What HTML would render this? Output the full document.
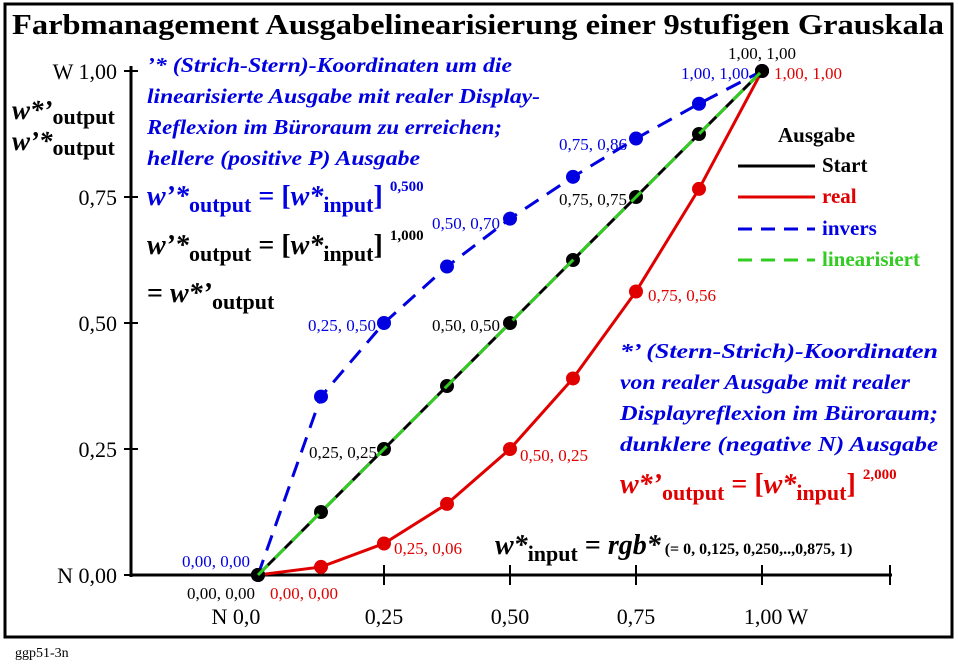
<!DOCTYPE html>
<html><head><meta charset="utf-8"><style>
body{margin:0;background:#fff}
svg text{font-family:"Liberation Serif",serif}
</style></head><body>
<svg width="958" height="661" xmlns="http://www.w3.org/2000/svg">
<rect x="5" y="4" width="947" height="633" fill="#fff" stroke="#000" stroke-width="3"/>
<text x="12" y="34" font-size="28" font-weight="bold" textLength="932" lengthAdjust="spacingAndGlyphs">Farbmanagement Ausgabelinearisierung einer 9stufigen Grauskala</text>
<g id="axes"></g>
<g id="series"></g>
<g font-weight="bold" font-style="italic" font-size="21" fill="#0000e0">
<text x="147" y="72" textLength="365" lengthAdjust="spacingAndGlyphs">’* (Strich-Stern)-Koordinaten um die</text>
<text x="147" y="103" textLength="393" lengthAdjust="spacingAndGlyphs">linearisierte Ausgabe mit realer Display-</text>
<text x="147" y="134" textLength="355" lengthAdjust="spacingAndGlyphs">Reflexion im Büroraum zu erreichen;</text>
<text x="147" y="165" textLength="273" lengthAdjust="spacingAndGlyphs">hellere (positive P) Ausgabe</text>
</g>
<text x="147" y="205" font-size="28" font-weight="bold" fill="#0000e0"><tspan font-style="italic">w’*</tspan><tspan font-size="22" dy="7">output</tspan><tspan dy="-7"> = [</tspan><tspan font-style="italic">w*</tspan><tspan font-size="22" dy="7">input</tspan><tspan dy="-7">] </tspan><tspan font-size="15" dy="-14">0,500</tspan></text>
<text x="147" y="254" font-size="28" font-weight="bold"><tspan font-style="italic">w’*</tspan><tspan font-size="22" dy="7">output</tspan><tspan dy="-7"> = [</tspan><tspan font-style="italic">w*</tspan><tspan font-size="22" dy="7">input</tspan><tspan dy="-7">] </tspan><tspan font-size="15" dy="-14">1,000</tspan></text>
<text x="147" y="302" font-size="28" font-weight="bold">= <tspan font-style="italic">w*’</tspan><tspan font-size="22" dy="7">output</tspan></text>
<text x="12" y="119" font-size="27" font-weight="bold"><tspan font-style="italic">w*’</tspan><tspan font-size="22" dy="5">output</tspan></text>
<text x="12" y="150" font-size="27" font-weight="bold"><tspan font-style="italic">w’*</tspan><tspan font-size="22" dy="5">output</tspan></text>
<g font-weight="bold" font-style="italic" font-size="21" fill="#0000e0">
<text x="620" y="358" textLength="318" lengthAdjust="spacingAndGlyphs">*’ (Stern-Strich)-Koordinaten</text>
<text x="620" y="389" textLength="290" lengthAdjust="spacingAndGlyphs">von realer Ausgabe mit realer</text>
<text x="620" y="420" textLength="318" lengthAdjust="spacingAndGlyphs">Displayreflexion im Büroraum;</text>
<text x="620" y="451" textLength="318" lengthAdjust="spacingAndGlyphs">dunklere (negative N) Ausgabe</text>
</g>
<text x="620" y="493" font-size="28" font-weight="bold" fill="#e00000"><tspan font-style="italic">w*’</tspan><tspan font-size="22" dy="7">output</tspan><tspan dy="-7"> = [</tspan><tspan font-style="italic">w*</tspan><tspan font-size="22" dy="7">input</tspan><tspan dy="-7">] </tspan><tspan font-size="15" dy="-14">2,000</tspan></text>
<text x="495" y="554" font-size="28" font-weight="bold"><tspan font-style="italic">w*</tspan><tspan font-size="22" dy="7">input</tspan><tspan dy="-7"> = </tspan><tspan font-style="italic">rgb*</tspan><tspan font-size="16"> (= 0, 0,125, 0,250,..,0,875, 1)</tspan></text>
<g font-weight="bold" font-size="21">
<text x="778" y="142">Ausgabe</text>
<line x1="738" y1="166" x2="815" y2="166" stroke="#000" stroke-width="3"/><text x="822" y="172">Start</text>
<line x1="738" y1="197" x2="815" y2="197" stroke="#e00000" stroke-width="3"/><text x="822" y="203" fill="#e00000">real</text>
<line x1="738" y1="229" x2="815" y2="229" stroke="#0000e0" stroke-width="3" stroke-dasharray="14,9"/><text x="822" y="235" fill="#0000e0">invers</text>
<line x1="738" y1="260" x2="815" y2="260" stroke="#33cc22" stroke-width="3" stroke-dasharray="14,9"/><text x="822" y="266" fill="#33cc22">linearisiert</text>
</g>
<text x="15" y="657" font-size="14">ggp51-3n</text>
<script>
const xValues=[0,0.125,0.25,0.375,0.5,0.625,0.75,0.875,1];
const startValues=[0,0.125,0.25,0.375,0.5,0.625,0.75,0.875,1];
const realValues=[0,0.016,0.0625,0.141,0.25,0.39,0.5625,0.766,1];
const inversValues=[0,0.354,0.5,0.612,0.707,0.79,0.866,0.935,1];
const linValues=[0,0.125,0.25,0.375,0.5,0.625,0.75,0.875,1];
const xTicks=[0,0.25,0.5,0.75,1];
const xTickLabels=["N  0,0","0,25","0,50","0,75","1,00  W"];
const yTicks=[0,0.25,0.5,0.75,1];
const yTickLabels=["N 0,00","0,25","0,50","0,75","W 1,00"];
const NS="http://www.w3.org/2000/svg";
const X=v=>258+v*504, Y=v=>575-v*504;
function mk(p,t,a){const e=document.createElementNS(NS,t);for(const k in a)e.setAttribute(k,a[k]);p.appendChild(e);return e;}
const ax=document.getElementById('axes');
let e=mk(ax,'line',{x1:131,y1:575,x2:892,y2:575,stroke:'#000','stroke-width':3});


e=mk(ax,'line',{x1:131,y1:66,x2:131,y2:577,stroke:'#000','stroke-width':3});


mk(ax,'line',{x1:890,y1:565,x2:890,y2:585,stroke:'#000','stroke-width':2});
xTicks.forEach((v,i)=>{
 if(v>0)mk(ax,'line',{x1:X(v),y1:565,x2:X(v),y2:585,stroke:'#000','stroke-width':2});
 const t=mk(ax,'text',{x:X(v)-(i==0?22:i==4?-14:0),y:624,'font-size':22,'text-anchor':'middle'});t.textContent=xTickLabels[i];
 
 
});
yTicks.forEach((v,i)=>{
 mk(ax,'line',{x1:124,y1:Y(v),x2:138,y2:Y(v),stroke:'#000','stroke-width':2});
 const t=mk(ax,'text',{x:117,y:Y(v)+8,'font-size':22,'text-anchor':'end'});t.textContent=yTickLabels[i];
 
 
});
const sg=document.getElementById('series');
function series(vals,color,dash,dots,name){
 const pts=xValues.map((x,i)=>X(x)+','+Y(vals[i])).join(' ');
 const l=mk(sg,'polyline',{points:pts,fill:'none',stroke:color,'stroke-width':3});
 if(dash)l.setAttribute('stroke-dasharray',dash);
 
 
 if(dots)xValues.forEach((x,i)=>{const c=mk(sg,'circle',{cx:X(x),cy:Y(vals[i]),r:7,fill:color});
  
  });
}
series(realValues,'#e00000',null,true,'real');
series(inversValues,'#0000e0','16,10',true,'invers');
series(startValues,'#000',null,true,'start');
series(linValues,'#33cc22','14,10',false,'linearisiert');
function lab(x,y,s,c,anchor){const t=mk(sg,'text',{x:x,y:y,'font-size':17,fill:c,'text-anchor':anchor||'start'});t.textContent=s;
 
 }
lab(250,567,'0,00, 0,00','#0000e0','end');lab(255,599,'0,00, 0,00','#000','end');lab(270,599,'0,00, 0,00','#e00000');
lab(394,554,'0,25, 0,06','#e00000');lab(520,461,'0,50, 0,25','#e00000');lab(648,301,'0,75, 0,56','#e00000');lab(774,79,'1,00, 1,00','#e00000');
lab(377,458,'0,25, 0,25','#000','end');lab(500,331,'0,50, 0,50','#000','end');lab(627,205,'0,75, 0,75','#000','end');lab(762,59,'1,00, 1,00','#000','middle');
lab(376,331,'0,25, 0,50','#0000e0','end');lab(500,229,'0,50, 0,70','#0000e0','end');lab(627,150,'0,75, 0,86','#0000e0','end');lab(749,79,'1,00, 1,00','#0000e0','end');
</script>
</svg>
</body></html>
